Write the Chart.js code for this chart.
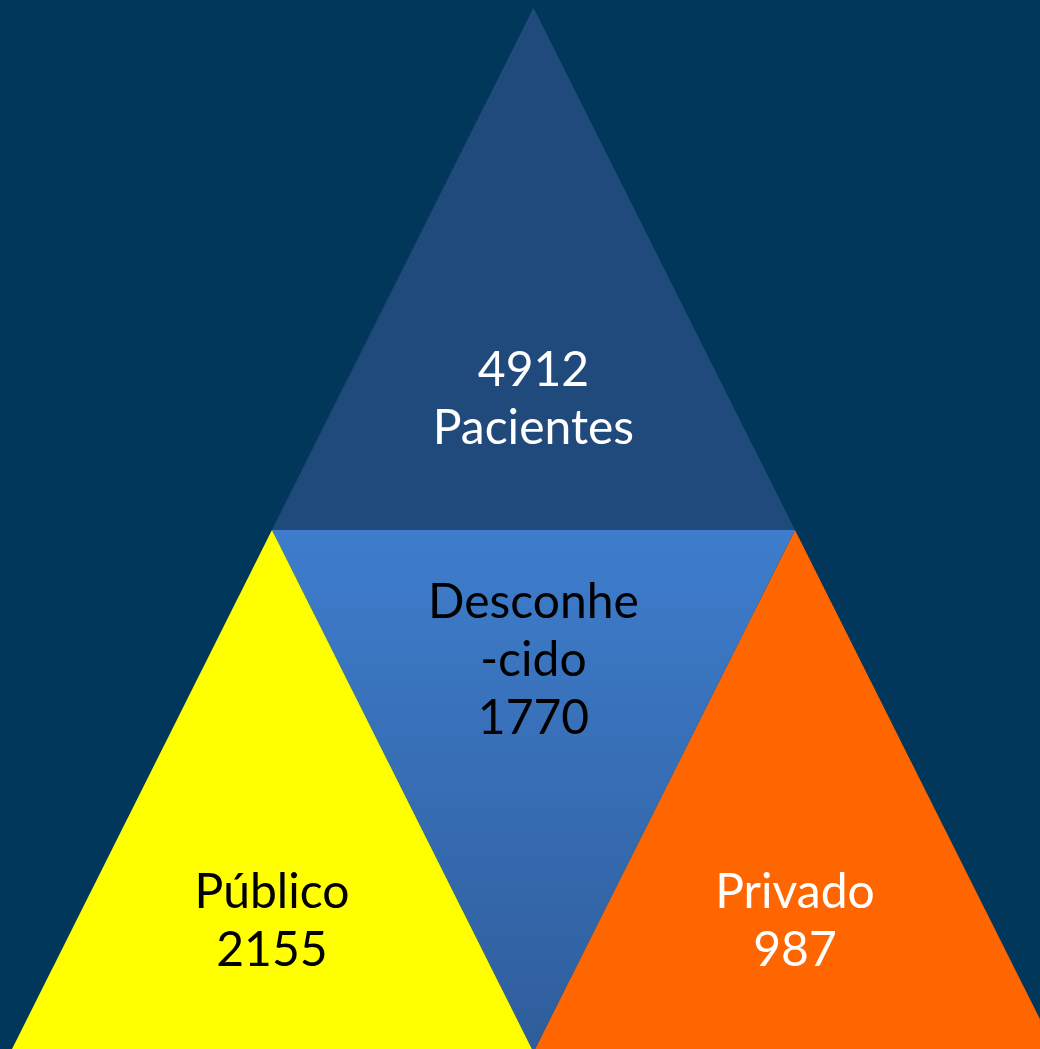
<!DOCTYPE html>
<html>
<head>
<meta charset="utf-8">
<script src="https://cdn.jsdelivr.net/npm/chart.js@4/dist/chart.umd.min.js"></script>
<style>
  html, body { margin: 0; padding: 0; background: #02375c; }
  #wrap { width: 1040px; height: 1049px; position: relative; }
</style>
</head>
<body>
<div id="wrap"><canvas id="triChart"></canvas></div>
<script>
// data
const totalValue = 4912;
const totalLabel = 'Pacientes';
const categories = ['Público', 'Desconhecido', 'Privado'];
const values = [2155, 1770, 987];
const categoryLines = [['Público'], ['Desconhe', '-cido'], ['Privado']];

// colours
const topColor = '#214a7c';
const sliceColors = ['#ffff00', null, '#ff6600']; // middle uses a gradient
const textColors = ['#000000', '#000000', '#ffffff'];

// triangle slots on a half-width / height grid: [left x, base row, inverted]
const totalSlot = [1, 1, false];
const slots = [[0, 0, false], [1, 0, true], [2, 0, false]];

function trianglePoints(slot) {
    const [x0, r, inv] = slot;
    if (inv) return [{x: x0, y: r + 1}, {x: x0 + 1, y: r}, {x: x0 + 2, y: r + 1}];
    return [{x: x0, y: r}, {x: x0 + 1, y: r + 1}, {x: x0 + 2, y: r}];
}

function middleGradient(context) {
    const chart = context.chart;
    const y = chart.scales.y;
    if (!y || !chart.chartArea) return '#3a73bd';
    const top = y.getPixelForValue(1), bottom = y.getPixelForValue(0);
    if (!isFinite(top) || !isFinite(bottom)) return '#3a73bd';
    const g = chart.ctx.createLinearGradient(0, top, 0, bottom);
    g.addColorStop(0, '#3e7dcc');
    g.addColorStop(1, '#2f5d9b');
    return g;
}

const datasets = [];
slots.forEach((slot, i) => {
    datasets.push({
        label: categories[i],
        data: trianglePoints(slot),
        backgroundColor: sliceColors[i] || middleGradient,
        fill: {value: slot[2] ? slot[1] + 1 : slot[1]},
        showLine: true,
        borderWidth: 0,
        pointRadius: 0
    });
});
datasets.push({
    label: totalLabel,
    data: trianglePoints(totalSlot),
    backgroundColor: topColor,
    fill: {value: totalSlot[1]},
    showLine: true,
    borderWidth: 0,
    pointRadius: 0
});

const labelPlugin = {
    id: 'triLabels',
    afterDatasetsDraw(chart) {
        const {ctx, scales} = chart;
        const lineH = 58;
        const drawBlock = (lines, slot, color) => {
            const [x0, r, inv] = slot;
            const cx = scales.x.getPixelForValue(x0 + 1);
            const cy = scales.y.getPixelForValue(inv ? r + 0.75 : r + 0.25);
            ctx.save();
            ctx.fillStyle = color;
            ctx.font = '48px Lato, "Open Sans", sans-serif';
            ctx.textAlign = 'center';
            ctx.textBaseline = 'middle';
            const start = cy - (lines.length - 1) * lineH / 2;
            lines.forEach((t, k) => ctx.fillText(t, cx, start + k * lineH));
            ctx.restore();
        };
        drawBlock([String(totalValue), totalLabel], totalSlot, '#ffffff');
        slots.forEach((slot, i) => {
            drawBlock([...categoryLines[i], String(values[i])], slot, textColors[i]);
        });
    }
};

new Chart(document.getElementById('triChart'), {
    type: 'scatter',
    data: {datasets},
    options: {
        responsive: true,
        maintainAspectRatio: false,
        animation: false,
        layout: {padding: 0},
        plugins: {legend: {display: false}, tooltip: {enabled: false}},
        scales: {
            x: {type: 'linear', display: false, min: -0.04, max: 3.937},
            y: {type: 'linear', display: false, min: 0.006, max: 2.015}
        }
    },
    plugins: [labelPlugin]
});
</script>
</body>
</html>
